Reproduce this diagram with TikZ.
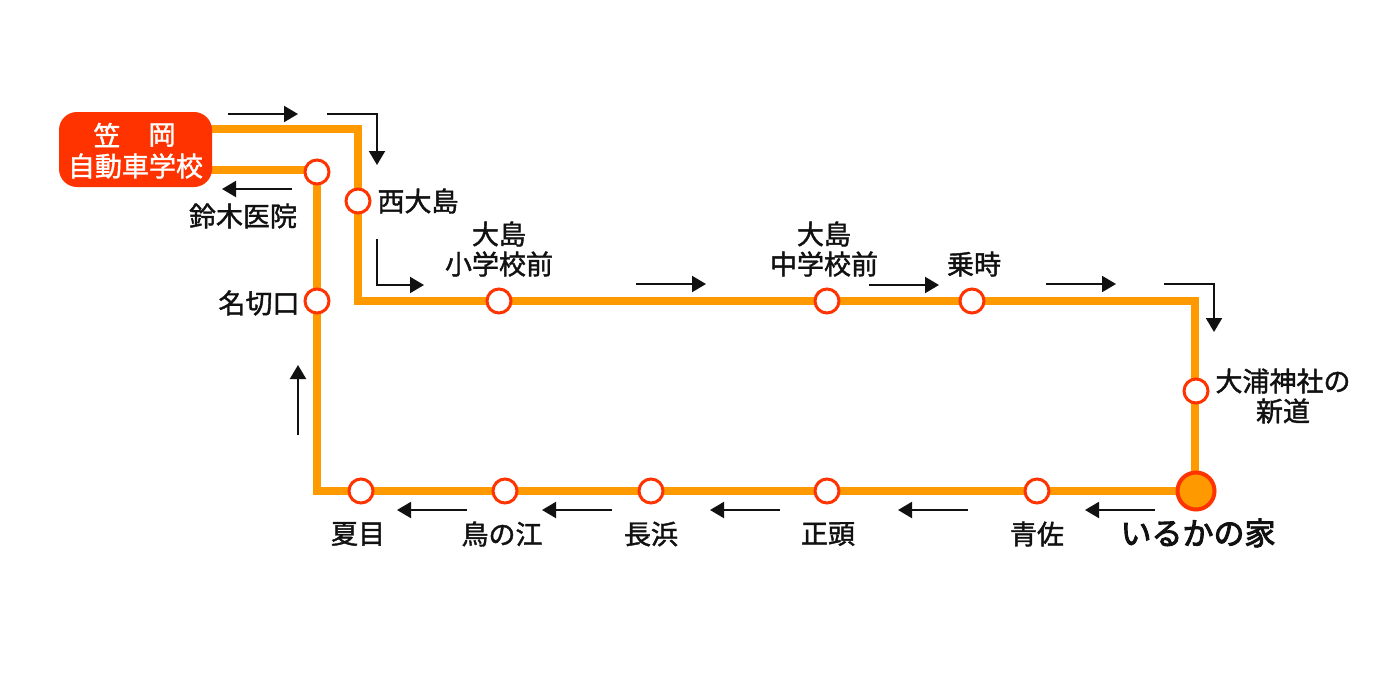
\documentclass[tikz,border=0pt]{standalone}
\usepackage{fontspec}
\setmainfont{Noto Sans CJK JP}
\newfontfamily\labfont[FakeBold=1.5]{Noto Sans CJK JP}
\newfontfamily\homefont[FakeBold=3]{Noto Sans CJK JP}
\usetikzlibrary{arrows.meta,calc}
\definecolor{routeorange}{HTML}{FF9900}
\definecolor{stopred}{HTML}{FF3300}
\definecolor{labelink}{HTML}{111111}
\tikzset{
  x=0.5pt,y=-0.5pt,
  route/.style={draw=routeorange,line width=3.8pt,line join=miter},
  stop/.style={circle,draw=stopred,fill=white,line width=1.5pt,minimum size=12pt,inner sep=0pt},
  home/.style={circle,draw=stopred,fill=routeorange,line width=2pt,minimum size=18.5pt,inner sep=0pt},
  lab/.style={font=\labfont\fontsize{13.5pt}{15pt}\selectfont,text=labelink,align=center,inner sep=0pt},
  homelab/.style={font=\homefont\fontsize{15.5pt}{17pt}\selectfont,text=labelink,inner sep=0pt},
  dir/.style={draw=labelink,line width=1pt,-{Triangle[length=7pt,width=8pt]}},
  school/.style={rounded corners=9pt,fill=stopred,draw=none,minimum width=76.5pt,minimum height=37.5pt,inner sep=0pt},
  schooltext/.style={font=\labfont\fontsize{13.5pt}{15pt}\selectfont,text=white,inner sep=0pt},
}
\begin{document}
\begin{tikzpicture}
\useasboundingbox[fill=white] (0,0) rectangle (1400,680);
% route coordinates
\coordinate (t1) at (205,129);
\coordinate (c1) at (358,129);
\coordinate (c2) at (358,301);
\coordinate (c3) at (1195,301);
\coordinate (c4) at (317,491);
\coordinate (c5) at (317,170);
\coordinate (t2) at (205,170);
\coordinate (ph) at (1195,491);
\draw[route] (t1) -- (c1) -- (c2) -- (c3) -- (ph) -- (c4) -- (c5) -- (t2);
% school
\node[school] (box) at (135.5,149.5) {};
\node[schooltext] (s1) at (107,135) {笠};
\node[schooltext] (s2) at (162,135) {岡};
\node[schooltext] (s3) at (135.5,166) {自動車学校};
% stops
\node[stop] (a) at (317,172) {};
\node[stop] (b) at (358,201) {};
\node[stop] (c) at (317,301) {};
\node[stop] (d) at (499,301) {};
\node[stop] (e) at (827,301) {};
\node[stop] (f) at (972,301) {};
\node[stop] (g) at (1196,391) {};
\node[home] (hm) at (1196,491) {};
\node[stop] (h) at (1037,491) {};
\node[stop] (i) at (827,491) {};
\node[stop] (j) at (651,491) {};
\node[stop] (k) at (505,491) {};
\node[stop] (l) at (361,491) {};
% labels
\node[lab] (la) at (243,216) {鈴木医院};
\node[lab] (lb) at (418,201) {西大島};
\node[lab] (lc) at (259,303) {名切口};
\node[lab] (ld) at (499,249) {大島\\小学校前};
\node[lab] (le) at (824,249) {大島\\中学校前};
\node[lab] (lf) at (974,264) {乗時};
\node[lab] (lg) at (1283,396) {大浦神社の\\新道};
\node[lab] (lh) at (1037,534) {青佐};
\node[lab] (li) at (828,534) {正頭};
\node[lab] (lj) at (651,534) {長浜};
\node[lab] (lk) at (502,534) {鳥の江};
\node[lab] (ll) at (358,534) {夏目};
\node[homelab] (lm) at (1198,533) {いるかの家};
% direction arrows
\coordinate (a1s) at (228,114); \coordinate (a1e) at (298,114);
\coordinate (a2s) at (327,114); \coordinate (a2m) at (377,114); \coordinate (a2e) at (377,165);
\coordinate (a3s) at (292,189); \coordinate (a3e) at (222,189);
\coordinate (a4s) at (377,239); \coordinate (a4m) at (377,285); \coordinate (a4e) at (424,285);
\coordinate (a5s) at (636,284); \coordinate (a5e) at (706,284);
\coordinate (a6s) at (869,285); \coordinate (a6e) at (939,285);
\coordinate (a7s) at (1046,284); \coordinate (a7e) at (1116,284);
\coordinate (a8s) at (1164,284); \coordinate (a8m) at (1214,284); \coordinate (a8e) at (1214,332);
\coordinate (a9s) at (1155,510); \coordinate (a9e) at (1085,510);
\coordinate (a10s) at (968,510); \coordinate (a10e) at (898,510);
\coordinate (a11s) at (780,510); \coordinate (a11e) at (710,510);
\coordinate (a12s) at (612,510); \coordinate (a12e) at (542,510);
\coordinate (a13s) at (467,510); \coordinate (a13e) at (397,510);
\coordinate (a14s) at (298,435); \coordinate (a14e) at (298,365);
\draw[dir] (a1s) -- (a1e);
\draw[dir] (a2s) -- (a2m) -- (a2e);
\draw[dir] (a3s) -- (a3e);
\draw[dir] (a4s) -- (a4m) -- (a4e);
\draw[dir] (a5s) -- (a5e);
\draw[dir] (a6s) -- (a6e);
\draw[dir] (a7s) -- (a7e);
\draw[dir] (a8s) -- (a8m) -- (a8e);
\draw[dir] (a9s) -- (a9e);
\draw[dir] (a10s) -- (a10e);
\draw[dir] (a11s) -- (a11e);
\draw[dir] (a12s) -- (a12e);
\draw[dir] (a13s) -- (a13e);
\draw[dir] (a14s) -- (a14e);
\end{tikzpicture}
\end{document}
